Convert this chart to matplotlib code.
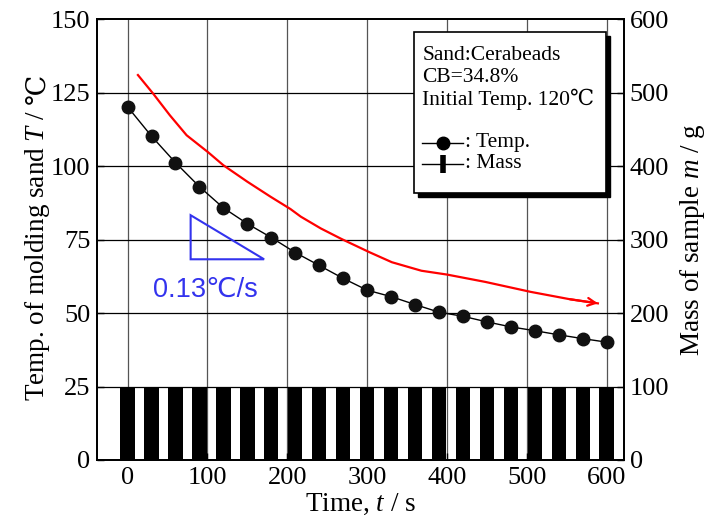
import matplotlib
matplotlib.use("Agg")
import matplotlib.pyplot as plt
from matplotlib.patches import Rectangle, Polygon
from matplotlib.lines import Line2D

plt.rcParams['font.family'] = ['Liberation Serif', 'DejaVu Serif']
plt.rcParams['mathtext.fontset'] = 'custom'
plt.rcParams['mathtext.rm'] = 'Liberation Serif'
plt.rcParams['mathtext.it'] = 'Liberation Serif:italic'

# data
time_s = [0, 30, 60, 90, 120, 150, 180, 210, 240, 270, 300, 330, 360,
          390, 420, 450, 480, 510, 540, 570, 600]
temp_c = [120.2, 110.2, 101.2, 93.0, 85.8, 80.4, 75.7, 70.6, 66.2, 61.8,
          57.8, 55.6, 52.9, 50.3, 48.9, 47.0, 45.3, 44.0, 42.6, 41.3, 40.1]
mass_g = [100] * len(time_s)

# red trend curve (left axis units)
red_t = [13, 32, 53, 74, 101, 120, 150, 179, 204, 217, 242, 268, 303,
         331, 368, 400, 448, 505, 554, 589]
red_T = [131.0, 124.7, 117.3, 110.5, 104.7, 100.3, 94.7, 89.6, 85.4, 82.8,
         78.8, 75.2, 70.7, 67.3, 64.4, 63.1, 60.6, 57.2, 54.7, 53.3]

# slope triangle
tri_t = [79, 79, 171]
tri_T = [83.3, 68.3, 68.3]

fig = plt.figure(figsize=(7.2, 5.26), dpi=100)
ax = fig.add_axes([0.135, 0.1255, 0.732, 0.838])
ax2 = ax.twinx()

ax.set_xlim(-38, 622)
ax.set_ylim(0, 150)
ax2.set_ylim(0, 600)
ax.set_xticks(range(0, 601, 100))
ax.set_yticks(range(0, 151, 25))
ax2.set_yticks(range(0, 601, 100))

ax.set_zorder(ax2.get_zorder() + 1)
ax.patch.set_visible(False)

for x in range(0, 601, 100):
    ax2.axvline(x, color='#555555', lw=0.9, zorder=0)
for y in range(25, 150, 25):
    ax.axhline(y, color='black', lw=0.9, zorder=0)

ax2.bar(time_s, mass_g, width=18, color='black', zorder=2)

ax.plot(time_s, temp_c, color='black', lw=1.0, marker='o', ms=9,
        mfc='#111111', mec='#111111', zorder=5)

ax.plot(red_t, red_T, color='red', lw=1.6, zorder=4)
ax.annotate('', xy=(red_t[-1], red_T[-1]), xytext=(red_t[-2], red_T[-2]),
            arrowprops=dict(arrowstyle='->', color='red', lw=1.6,
                            mutation_scale=14, shrinkA=0, shrinkB=0))

ax.add_patch(Polygon(list(zip(tri_t, tri_T)), closed=True, fill=False,
                     edgecolor='#3333ee', lw=1.5, zorder=4))
ax.text(97, 57.8, '0.13℃/s', color='#3333ee', fontsize=19.5,
        family=['Liberation Sans', 'DejaVu Sans'], ha='center', va='center')

# legend box with shadow
bx0, by0, bw, bh = 0.6015, 0.6054, 0.3635, 0.365
ax.add_patch(Rectangle((bx0 + 0.0076, by0 - 0.009), bw, bh, transform=ax.transAxes,
                       facecolor='black', edgecolor='black', zorder=8))
ax.add_patch(Rectangle((bx0, by0), bw, bh, transform=ax.transAxes,
                       facecolor='white', edgecolor='black', lw=1.2, zorder=9))
tx = 0.617
for txt, yy in [('Sand:Cerabeads', 0.918), ('CB=34.8%', 0.868), ('Initial Temp. 120℃', 0.818)]:
    ax.text(tx, yy, txt, transform=ax.transAxes, fontsize=15.5, va='center', zorder=10)
ax.add_line(Line2D([0.617, 0.656, 0.695], [0.72, 0.72, 0.72], transform=ax.transAxes,
                   color='black', lw=1.0, marker='o', ms=9, markevery=[1], zorder=10))
ax.add_line(Line2D([0.617, 0.656, 0.695], [0.672, 0.672, 0.672], transform=ax.transAxes,
                   color='black', lw=1.0, marker='|', ms=13, mew=4, markevery=[1], zorder=10))
ax.text(0.697, 0.72, ': Temp.', transform=ax.transAxes, fontsize=15.5, va='center', zorder=10)
ax.text(0.697, 0.672, ': Mass', transform=ax.transAxes, fontsize=15.5, va='center', zorder=10)

ax.tick_params(direction='in', labelsize=19, length=5, width=1, pad=5)
ax2.tick_params(direction='in', labelsize=19, length=5, width=1, pad=4)
for a in (ax, ax2):
    for s in a.spines.values():
        s.set_linewidth(1.3)

ax.set_xlabel('Time, $t$ / s', fontsize=19.5, labelpad=2)
ylab = ax.set_ylabel('Temp. of molding sand $T$ /', fontsize=19.5)
ax.yaxis.set_label_coords(-0.085, 0.465)
ax.annotate('℃', xy=(0.5, 1.0), xycoords=ylab, xytext=(0, 4),
            textcoords='offset points', rotation=90,
            ha='center', va='bottom', fontsize=19.5)
ax2.set_ylabel('Mass of sample $m$ / g', fontsize=19.5, labelpad=6)

fig.savefig('out.png', dpi=100)
